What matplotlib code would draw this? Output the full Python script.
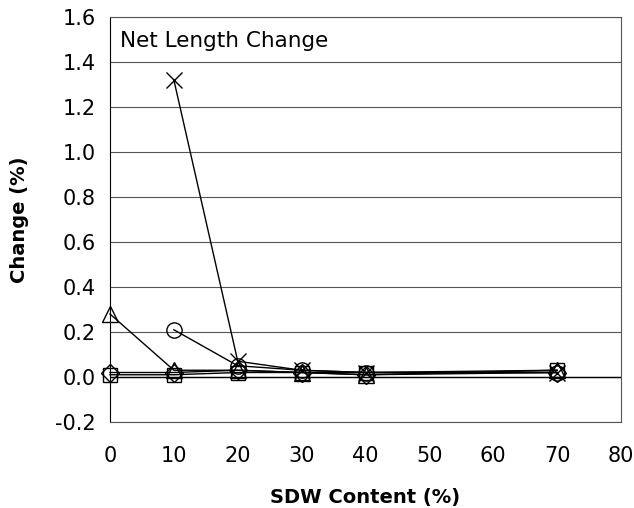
import matplotlib
matplotlib.use("Agg")
import matplotlib.pyplot as plt

x_all = [0, 10, 20, 30, 40, 70]
x_late = [10, 20, 30, 40, 70]

cross = [1.32, 0.07, 0.03, 0.02, 0.02]
circle = [0.21, 0.05, 0.03, 0.02, 0.02]
triangle = [0.28, 0.03, 0.03, 0.02, 0.01, 0.03]
diamond = [0.02, 0.02, 0.03, 0.02, 0.01, 0.02]
square = [0.01, 0.01, 0.02, 0.02, 0.02, 0.03]

xticks = [0, 10, 20, 30, 40, 50, 60, 70, 80]
yticks = [-0.2, 0.0, 0.2, 0.4, 0.6, 0.8, 1.0, 1.2, 1.4, 1.6]

plt.rcParams['font.family'] = ['DejaVu Sans']
fig = plt.figure(figsize=(6.34, 5.08), dpi=100)
ax = fig.add_axes([110/634, 1 - 422/508, (621-110)/634, (422-17)/508])

common = dict(color='black', lw=1.0, mfc='none', mec='black', mew=1.0, clip_on=False)
ax.plot(x_all, square, marker='s', ms=10, **common)
ax.plot(x_all, diamond, marker='D', ms=9, **common)
ax.plot(x_all, triangle, marker='^', ms=11, **common)
ax.plot(x_late, circle, marker='o', ms=11, **common)
ax.plot(x_late, cross, marker='x', ms=11, **common)

ax.set_xlim(0, 80)
ax.set_ylim(-0.2, 1.6)
ax.set_xticks(xticks)
ax.set_xticklabels([str(v) for v in xticks])
ax.set_yticks(yticks)
ax.set_yticklabels([f"{v:.1f}" for v in yticks])
ax.tick_params(axis='both', labelsize=15, length=0)
ax.tick_params(axis='x', pad=17)
ax.tick_params(axis='y', pad=10)
ax.yaxis.grid(True, color='#555555', lw=0.8)
ax.axhline(0, color='black', lw=1.0)
for s in ax.spines.values():
    s.set_color('#555555')
    s.set_linewidth(0.8)
ax.spines['left'].set_color('black')
ax.set_xlabel('SDW Content (%)', fontsize=14, fontweight='bold', labelpad=16)
ax.set_ylabel('Change (%)', fontsize=14, fontweight='bold', labelpad=19)
ax.text(0.02, 0.965, 'Net Length Change', transform=ax.transAxes, fontsize=15.5,
        va='top', ha='left')
ax.set_axisbelow(True)

fig.savefig('out.png', dpi=100)
